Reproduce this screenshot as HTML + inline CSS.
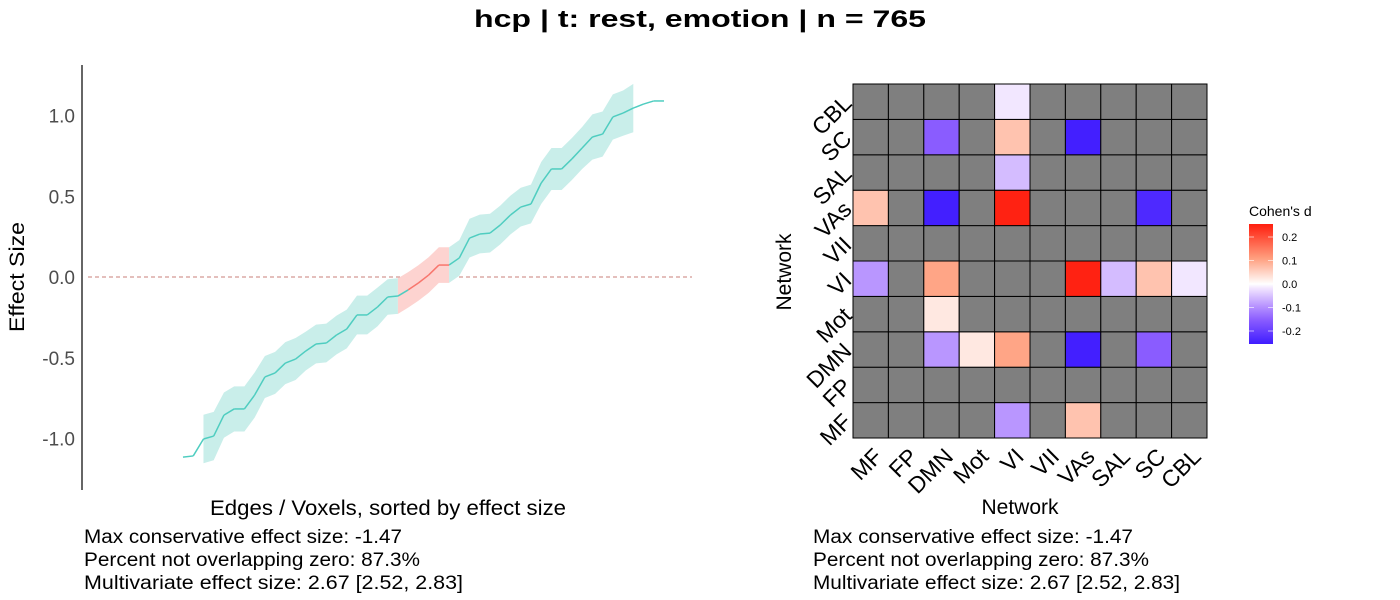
<!DOCTYPE html>
<html><head><meta charset="utf-8">
<style>
body{margin:0;background:#fff;}
svg{display:block;font-family:"Liberation Sans",Arial,sans-serif;}
</style></head>
<body>
<svg id="chart" width="1400" height="600" viewBox="0 0 1400 600" xmlns="http://www.w3.org/2000/svg">
<text x="474" y="27" textLength="452" lengthAdjust="spacingAndGlyphs" font-size="24" font-weight="bold">hcp | t: rest, emotion | n = 765</text>
<g id="left"></g>
<g id="right"></g>
</svg>
<script>
const effects = [-1.115,-1.108,-1.003,-0.985,-0.855,-0.817,-0.817,-0.731,-0.619,-0.594,-0.533,-0.508,-0.458,-0.415,-0.409,-0.359,-0.322,-0.235,-0.235,-0.186,-0.124,-0.118,-0.080,-0.037,0.012,0.074,0.074,0.118,0.241,0.266,0.272,0.322,0.384,0.433,0.452,0.582,0.669,0.669,0.731,0.799,0.867,0.885,0.991,1.015,1.046,1.071,1.090,1.090];
const ciHalf = [0,0,0.15,0.15,0.14,0.14,0.14,0.14,0.13,0.13,0.13,0.13,0.12,0.12,0.12,0.12,0.12,0.12,0.12,0.12,0.11,0.11,0.11,0.11,0.11,0.11,0.11,0.11,0.12,0.12,0.12,0.12,0.12,0.12,0.12,0.13,0.13,0.13,0.13,0.13,0.14,0.14,0.14,0.14,0.15,0,0,0];
const yTicks = [1.0,0.5,0.0,-0.5,-1.0];
const yTickLabels = ["1.0","0.5","0.0","-0.5","-1.0"];
const networks = ["MF","FP","DMN","Mot","VI","VII","VAs","SAL","SC","CBL"];
const N = null;
// rows listed bottom (MF) to top (CBL); columns MF..CBL
const heat = [
 [N,N,N,N,-0.09,N,0.066,N,N,N],
 [N,N,N,N,N,N,N,N,N,N],
 [N,N,-0.09,0.025,0.10,N,-0.245,N,-0.15,N],
 [N,N,0.025,N,N,N,N,N,N,N],
 [-0.09,N,0.10,N,N,N,0.245,-0.055,0.066,-0.017],
 [N,N,N,N,N,N,N,N,N,N],
 [0.066,N,-0.245,N,0.245,N,N,N,-0.23,N],
 [N,N,N,N,-0.055,N,N,N,N,N],
 [N,N,-0.15,N,0.066,N,-0.245,N,N,N],
 [N,N,N,N,-0.017,N,N,N,N,N]
];
const legendTicks = [0.2,0.1,0.0,-0.1,-0.2];
const legendLabels = ["0.2","0.1","0.0","-0.1","-0.2"];
const annotations = ["Max conservative effect size: -1.47","Percent not overlapping zero: 87.3%","Multivariate effect size: 2.67 [2.52, 2.83]"];
const annotationWidths = [318,336,379];
const annotationWidthsRight = [320,336,367];

const NS="http://www.w3.org/2000/svg";
function mk(tag, attrs, parent, txt){const e=document.createElementNS(NS,tag);for(const k in attrs)e.setAttribute(k,attrs[k]);if(txt!==undefined)e.textContent=txt;parent.appendChild(e);return e;}

// Left plot
const L=document.getElementById('left');
const xS=i=>183+i*(664-183)/(effects.length-1);
const yS=v=>277-v*161.5;
let ax=mk('line',{x1:82,y1:65,x2:82,y2:490,stroke:'#000','stroke-width':1.2},L);


yTicks.forEach((t,i)=>{
  let tk=mk('text',{x:75,y:yS(t)+7,'text-anchor':'end','font-size':19,fill:'#4d4d4d'},L,yTickLabels[i]);
  
  
});
let zl=mk('line',{x1:88,y1:yS(0),x2:692,y2:yS(0),stroke:'#c87f7a','stroke-width':1,'stroke-dasharray':'4,3'},L);


const isRed=i=>effects[i]-ciHalf[i]<=0 && effects[i]+ciHalf[i]>=0 && ciHalf[i]>0;
let segs=[];let cur=null;
for(let i=0;i<effects.length;i++){
  if(ciHalf[i]<=0){cur=null;continue;}
  const r=isRed(i);
  if(!cur||cur.r!==r){cur={r,idx:[]};segs.push(cur);if(segs.length>1){const p=segs[segs.length-2];if(p.idx.length&&p.idx[p.idx.length-1]===i-1)cur.idx.push(i-1);}}
  cur.idx.push(i);
}
segs.forEach(s=>{
  let up=s.idx.map(i=>xS(i)+','+yS(effects[i]+ciHalf[i]));
  let lo=s.idx.slice().reverse().map(i=>xS(i)+','+yS(effects[i]-ciHalf[i]));
  let p=mk('polygon',{points:up.concat(lo).join(' '),fill:s.r?'#fdd3d0':'#c9eeea'},L);
  
  
});
for(let i=0;i<effects.length-1;i++){
  const r=isRed(i)&&isRed(i+1);
  let l=mk('line',{x1:xS(i),y1:yS(effects[i]),x2:xS(i+1),y2:yS(effects[i+1]),stroke:r?'#f8766d':'#4fcdc0','stroke-width':1.5},L);
  
  
}
let yt=mk('text',{x:0,y:0,transform:'translate(24,277) rotate(-90)','text-anchor':'middle','font-size':21,textLength:110,lengthAdjust:'spacingAndGlyphs'},L,'Effect Size');


let xt=mk('text',{x:210,y:515,'font-size':21,textLength:356,lengthAdjust:'spacingAndGlyphs'},L,'Edges / Voxels, sorted by effect size');


annotations.forEach((a,i)=>{
  let t=mk('text',{x:84,y:543+i*23,'font-size':19,textLength:annotationWidths[i],lengthAdjust:'spacingAndGlyphs'},L,a);
  
  
});

// Heatmap
const R=document.getElementById('right');
const x0=853,y1=438,cw=35.4;
const posStops=[[0,[255,255,255]],[0.26,[255,196,176]],[0.42,[255,160,128]],[1,[255,30,14]]];
const negStops=[[0,[255,255,255]],[0.07,[242,230,255]],[0.22,[212,188,255]],[0.36,[185,150,255]],[0.6,[138,92,255]],[1,[63,28,255]]];
function col(d){
  const t=Math.min(1,Math.abs(d)/0.25);
  const st=d>=0?posStops:negStops;
  for(let k=1;k<st.length;k++){
    if(t<=st[k][0]){const a=st[k-1],b=st[k];const f=(t-a[0])/(b[0]-a[0]);
      return 'rgb('+[0,1,2].map(j=>Math.round(a[1][j]+(b[1][j]-a[1][j])*f)).join(',')+')';}
  }
  return 'rgb('+st[st.length-1][1].join(',')+')';
}
heat.forEach((row,r)=>row.forEach((v,c)=>{
  let rc=mk('rect',{x:x0+c*cw,y:y1-(r+1)*cw,width:cw,height:cw,fill:v===null?'#7f7f7f':col(v),stroke:'#000','stroke-width':1},R);
  
  
}));
networks.forEach((n,i)=>{
  const cy=y1-(i+0.5)*cw;
  let t=mk('text',{x:0,y:0,transform:`translate(853,${cy+3}) rotate(-45)`,'text-anchor':'end','font-size':23},R,n);
  
  
  const cx=x0+(i+0.5)*cw;
  let t2=mk('text',{x:0,y:0,transform:`translate(${cx+13},${458}) rotate(-45)`,'text-anchor':'end','font-size':23},R,n);
  
  
});
let hx=mk('text',{x:1020,y:514,'text-anchor':'middle','font-size':21},R,'Network');


let hy=mk('text',{x:0,y:0,transform:'translate(791,272) rotate(-90)','text-anchor':'middle','font-size':21},R,'Network');


let lt=mk('text',{x:1249,y:216,'font-size':14},R,"Cohen's d");


const defs=mk('defs',{},R);
const g=mk('linearGradient',{id:'cb',x1:0,y1:0,x2:0,y2:1},defs);
for(let k=posStops.length-1;k>=0;k--) mk('stop',{offset:0.5-posStops[k][0]*0.5,'stop-color':'rgb('+posStops[k][1].join(',')+')'},g);
for(let k=1;k<negStops.length;k++) mk('stop',{offset:0.5+negStops[k][0]*0.5,'stop-color':'rgb('+negStops[k][1].join(',')+')'},g);
let cb=mk('rect',{x:1249,y:224,width:24,height:120,fill:'url(#cb)'},R);


const lyS=v=>284-v*235;
legendTicks.forEach((t,i)=>{
  mk('line',{x1:1249,y1:lyS(t),x2:1254,y2:lyS(t),stroke:'#fff','stroke-opacity':0.6},R);
  mk('line',{x1:1268,y1:lyS(t),x2:1273,y2:lyS(t),stroke:'#fff','stroke-opacity':0.6},R);
  let tx=mk('text',{x:1282,y:lyS(t)+4,'font-size':11},R,legendLabels[i]);
  
  
});
annotations.forEach((a,i)=>{
  let t=mk('text',{x:813,y:543+i*23,'font-size':19,textLength:annotationWidthsRight[i],lengthAdjust:'spacingAndGlyphs'},R,a);
  
  
});
</script>
</body></html>
